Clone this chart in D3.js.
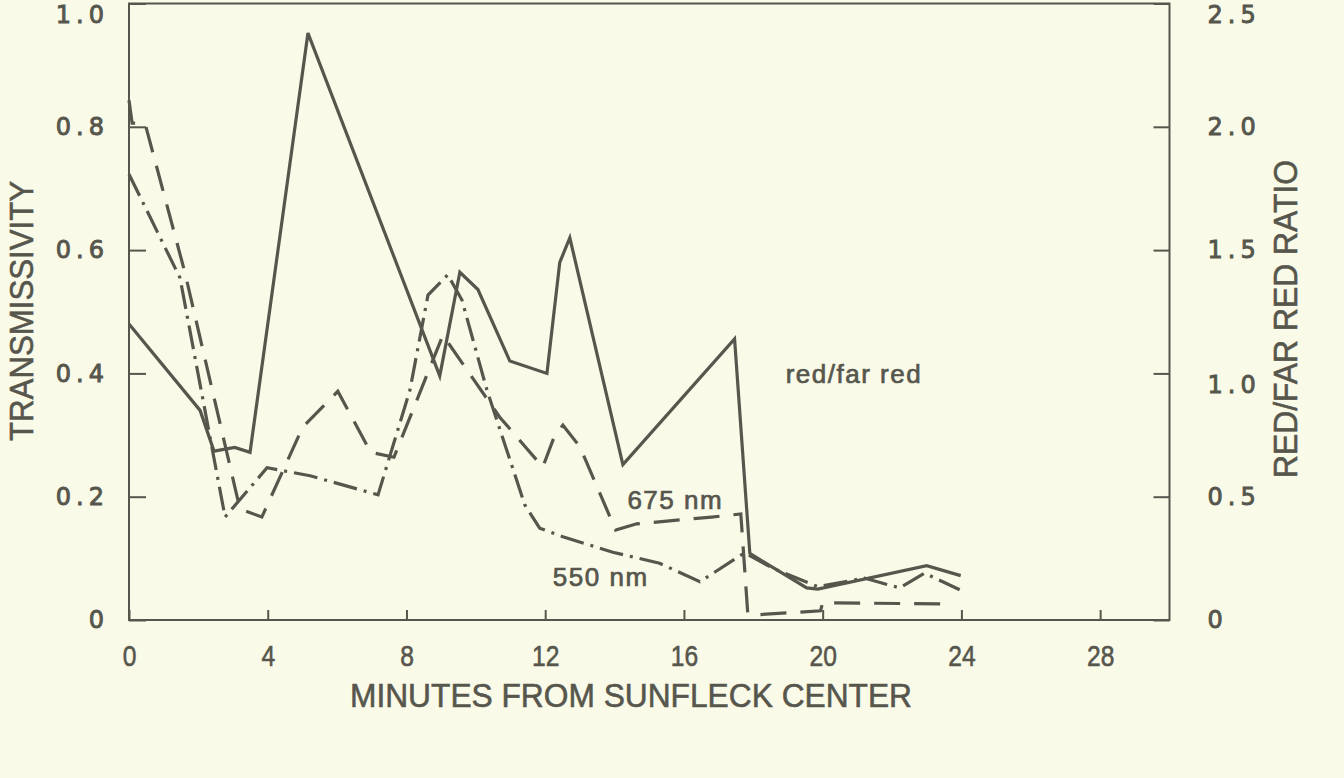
<!DOCTYPE html>
<html>
<head>
<meta charset="utf-8">
<script src="https://cdn.jsdelivr.net/npm/d3@7"></script>
<style>
  html, body { margin: 0; padding: 0; background: #fafae8; }
  svg { display: block; }
</style>
</head>
<body>
<svg id="chart" width="1344" height="778"></svg>
<script>
// ---- data ----
const xTicks = [0, 4, 8, 12, 16, 20, 24, 28];
const transTicks = [0, 0.2, 0.4, 0.6, 0.8, 1.0];
const ratioTicks = [0, 0.5, 1.0, 1.5, 2.0, 2.5];

// red / far red ratio (right axis), solid line
const ratioTime  = [0, 2.05, 2.45, 3.05, 3.49, 5.16, 8.96, 9.54, 10.06, 10.98, 12.05, 12.42, 12.71, 14.24, 17.46, 17.9, 19.54, 19.86, 23.0, 23.98];
const ratioValue = [1.20, 0.85, 0.685, 0.70, 0.68, 2.38, 0.99, 1.41, 1.34, 1.05, 1.00, 1.45, 1.55, 0.63, 1.14, 0.27, 0.13, 0.125, 0.22, 0.18];

// 675 nm transmissivity (left axis), dashed line
const nm675Time  = [0, 0.09, 0.46, 1.61, 3.2, 3.83, 5.01, 6.02, 6.97, 7.64, 9.05, 10.69, 11.93, 12.28, 12.51, 13.0, 14.03, 14.64, 16.8, 17.64, 17.84, 17.98, 19.94, 20.0, 23.52];
const nm675Value = [0.843, 0.806, 0.806, 0.564, 0.18, 0.167, 0.313, 0.371, 0.272, 0.264, 0.462, 0.329, 0.248, 0.30, 0.316, 0.281, 0.146, 0.156, 0.167, 0.172, 0.011, 0.008, 0.015, 0.028, 0.026];

// 550 nm transmissivity (left axis), dash-dot line
const nm550Time  = [0, 1.47, 2.77, 3.98, 5.22, 7.18, 8.1, 8.62, 9.19, 9.6, 10.32, 11.41, 11.84, 12.51, 13.95, 15.3, 16.46, 17.75, 18.56, 19.86, 21.2, 22.22, 22.94, 23.95];
const nm550Value = [0.723, 0.555, 0.167, 0.247, 0.234, 0.203, 0.373, 0.527, 0.56, 0.519, 0.373, 0.187, 0.149, 0.135, 0.11, 0.092, 0.062, 0.109, 0.084, 0.054, 0.068, 0.052, 0.076, 0.049];

const labels = [
  { text: "red/far red", t: 20.9, v: 1.0, axis: "ratio" },
  { text: "675 nm", t: 15.75, v: 0.195, axis: "trans" },
  { text: "550 nm", t: 13.6, v: 0.07, axis: "trans" }
];

(function () {
  // ---- layout ----
  const ink = "#56564d";
  const svg = d3.select("#chart");
  const pL = 129, pR = 1169.5, pT = 3.5, pB = 620;

  const x = d3.scaleLinear().domain([0, 30]).range([pL, pR]);
  const yT = d3.scaleLinear().domain([0, 1.0]).range([pB, pT]);
  const yR = d3.scaleLinear().domain([0, 2.5]).range([pB, pT]);

  const fmt = d => d === 0 ? "0" : d.toFixed(1);
  const heavy = (sel, w) => sel.attr("stroke", ink).attr("stroke-width", w).attr("paint-order", "stroke");

  // left axis
  const gL = svg.append("g").attr("transform", `translate(${pL},0)`)
    .call(d3.axisLeft(yT).tickValues(transTicks).tickSizeInner(-17).tickSizeOuter(0).tickPadding(20).tickFormat(fmt));
  // right axis
  const gR = svg.append("g").attr("transform", `translate(${pR},0)`)
    .call(d3.axisRight(yR).tickValues(ratioTicks).tickSizeInner(-16).tickSizeOuter(0).tickPadding(38).tickFormat(fmt));
  [gL, gR].forEach(g => {
    g.select(".domain").remove();
    g.selectAll("line").attr("stroke", ink).attr("stroke-width", 2);
    g.selectAll("text").attr("fill", ink)
      .style("font-family", "'DejaVu Sans', sans-serif")
      .style("font-size", "24px").style("letter-spacing", "5px")
      .call(heavy, 0.9)
      // the topmost labels sit at the frame's top edge: keep them inside the page
      .attr("dy", (d, i, n) => (d === 1.0 || d === 2.5) ? "0.8em" : "0.32em");
  });

  // bottom axis
  const gB = svg.append("g").attr("transform", `translate(0,${pB})`)
    .call(d3.axisBottom(x).tickValues(xTicks).tickSizeInner(-10).tickSizeOuter(0).tickPadding(25).tickFormat(d => String(d)));
  gB.select(".domain").remove();
  gB.selectAll("line").attr("stroke", ink).attr("stroke-width", 2);
  gB.selectAll("text").attr("fill", ink)
    .style("font-family", "'Liberation Sans', Arial, sans-serif")
    .style("font-size", "30px")
    .call(heavy, 0.6)
    .attr("transform", "scale(0.82,1)");

  // frame
  svg.append("rect")
    .attr("x", pL).attr("y", pT)
    .attr("width", pR - pL).attr("height", pB - pT)
    .attr("fill", "none").attr("stroke", ink).attr("stroke-width", 2);

  // series
  const lineT = d3.line().x(d => x(d[0])).y(d => yT(d[1]));
  const lineR = d3.line().x(d => x(d[0])).y(d => yR(d[1]));

  svg.append("path")
    .datum(nm550Time.map((t, i) => [t, nm550Value[i]]))
    .attr("d", lineT).attr("fill", "none").attr("stroke", ink)
    .attr("stroke-width", 3.2).attr("stroke-dasharray", "24,7,3,7");

  svg.append("path")
    .datum(nm675Time.map((t, i) => [t, nm675Value[i]]))
    .attr("d", lineT).attr("fill", "none").attr("stroke", ink)
    .attr("stroke-width", 3.2).attr("stroke-dasharray", "26,14");

  svg.append("path")
    .datum(ratioTime.map((t, i) => [t, ratioValue[i]]))
    .attr("d", lineR).attr("fill", "none").attr("stroke", ink)
    .attr("stroke-width", 3.2).attr("stroke-linejoin", "miter");

  // in-plot labels
  svg.selectAll(".lbl").data(labels).enter().append("text")
    .attr("class", "lbl")
    .attr("x", d => x(d.t))
    .attr("y", d => (d.axis === "ratio" ? yR(d.v) : yT(d.v)))
    .attr("text-anchor", "middle").attr("dy", "0.35em")
    .attr("fill", ink)
    .style("font-family", "'Liberation Sans', Arial, sans-serif")
    .style("font-size", "26px").style("letter-spacing", "1.5px")
    .call(heavy, 0.7)
    .text(d => d.text);

  // axis titles
  const titleStyle = sel => sel.attr("fill", ink)
    .style("font-family", "'Liberation Sans', Arial, sans-serif")
    .style("font-size", "34px")
    .attr("lengthAdjust", "spacingAndGlyphs")
    .call(heavy, 0.6);

  svg.append("text").call(titleStyle)
    .attr("x", 350).attr("y", 707).attr("textLength", 562)
    .text("MINUTES FROM SUNFLECK CENTER");

  svg.append("text").call(titleStyle)
    .attr("transform", "translate(33,311) rotate(-90)")
    .attr("text-anchor", "middle").attr("textLength", 260)
    .text("TRANSMISSIVITY");

  svg.append("text").call(titleStyle)
    .attr("transform", "translate(1297,319) rotate(-90)")
    .attr("text-anchor", "middle").attr("textLength", 318)
    .text("RED/FAR RED RATIO");
})();
</script>
</body>
</html>
